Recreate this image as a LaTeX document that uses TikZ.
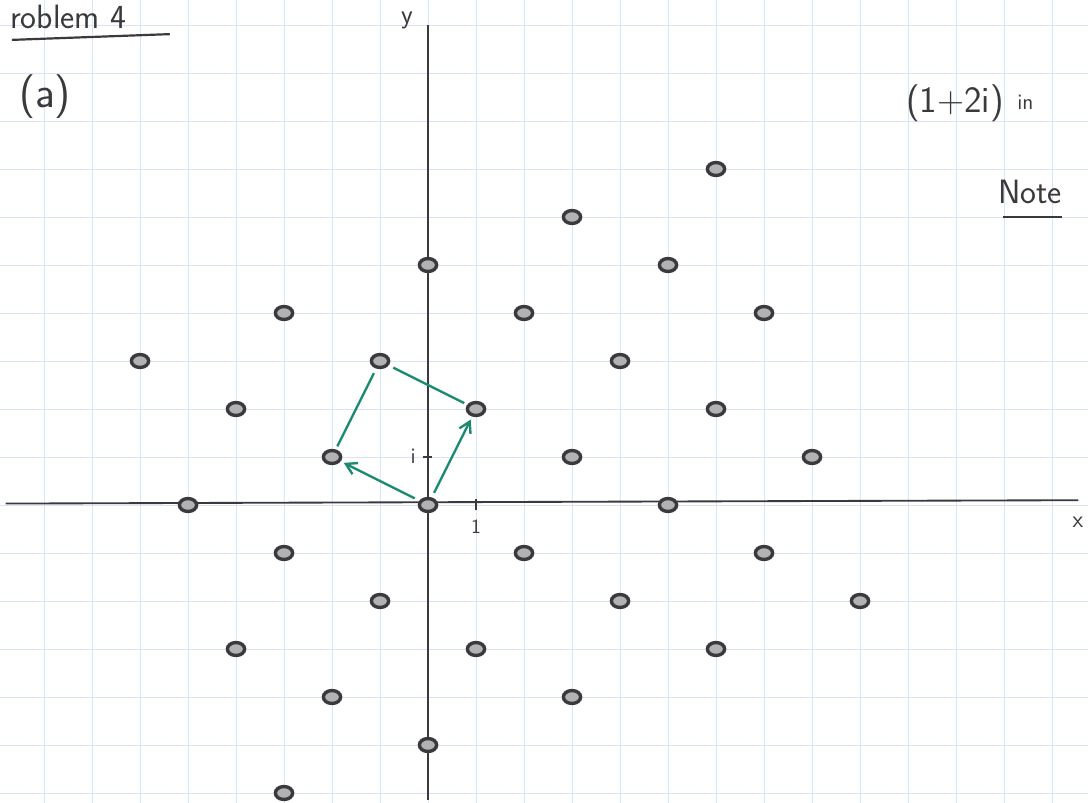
\documentclass[tikz,border=0pt]{standalone}
\usetikzlibrary{arrows.meta,positioning,shapes.geometric}
\definecolor{ink}{HTML}{3A3A3C}
\definecolor{pen}{HTML}{1B8A70}
\definecolor{gridblue}{HTML}{D9E4F4}

\begin{document}
\begin{tikzpicture}[
  latpt/.style={ellipse,draw=ink,line width=2pt,fill=gray!60,inner sep=0pt,minimum width=.36cm,minimum height=.27cm},
  penline/.style={pen,line width=1.4pt,shorten <=3pt,shorten >=2pt},
  pentip/.style={-{Straight Barb[length=2.2mm,width=2.6mm]}},
  hand/.style={text=ink,inner sep=1pt},
  axis/.style={ink,line width=1.1pt}
]
\useasboundingbox[fill=white] (-8.917,-6.208) rectangle (13.75,10.521);
\draw[gridblue,line width=.5pt] (-8.917,-6.208) grid (13.75,10.521);

\coordinate (xl) at (-8.8,.03);
\coordinate (xr) at (13.55,.1);
\coordinate (yb) at (0,-6.15);
\coordinate (yt) at (0,10.0);
\draw[axis] (xl) -- (xr);
\draw[axis] (yb) -- (yt);
\draw[ink,line width=.8pt] (1,-.1) -- (1,.12);
\draw[ink,line width=.8pt] (-.1,1) -- (.08,1);

\foreach \x/\y in {6/7,3/6,0/5,5/5,-3/4,2/4,7/4,-6/3,-1/3,4/3,-4/2,1/2,6/2,-2/1,3/1,8/1,-5/0,0/0,5/0,-3/-1,2/-1,7/-1,-1/-2,4/-2,9/-2,-4/-3,1/-3,6/-3,-2/-4,3/-4,0/-5,-3/-6}{
  \node[latpt] (pt\x\y) at (\x,\y) {};
}

\draw[penline,pentip] (pt00) -- (pt12);
\draw[penline,pentip] (pt00) -- (pt-21);
\draw[penline] (pt-13) -- (pt-21);
\draw[penline] (pt-13) -- (pt12);

\node[hand,font=\sffamily\fontsize{20}{22}\selectfont,anchor=west] (title) at (-8.75,10.16) {roblem 4};
\draw[ink,line width=1.3pt] (-8.67,9.69) -- (-5.38,9.81);
\node[hand,font=\sffamily\fontsize{26}{28}\selectfont] (parta) at (-7.98,8.5) {(a)};
\node[hand,font=\sffamily\fontsize{22}{24}\selectfont] (ideal) at (10.98,8.38) {(1+2i)};
\node[hand,font=\sffamily\fontsize{13}{15}\selectfont,right=.2 of ideal] (inword) {in};
\node[hand,font=\sffamily\fontsize{20}{22}\selectfont] (note) at (12.54,6.52) {Note};
\draw[ink,line width=1.3pt] (11.98,6.0) -- (13.21,6.0);

\node[hand,font=\sffamily\fontsize{16}{18}\selectfont] (ylab) at (-.44,10.1) {y};
\node[hand,font=\sffamily\fontsize{14}{16}\selectfont] (xlab) at (13.54,-.35) {x};
\node[hand,font=\sffamily\fontsize{12}{14}\selectfont] (one) at (1,-.46) {1};
\node[hand,font=\sffamily\fontsize{13}{15}\selectfont] (ilab) at (-.31,1.02) {i};
\end{tikzpicture}
\end{document}
